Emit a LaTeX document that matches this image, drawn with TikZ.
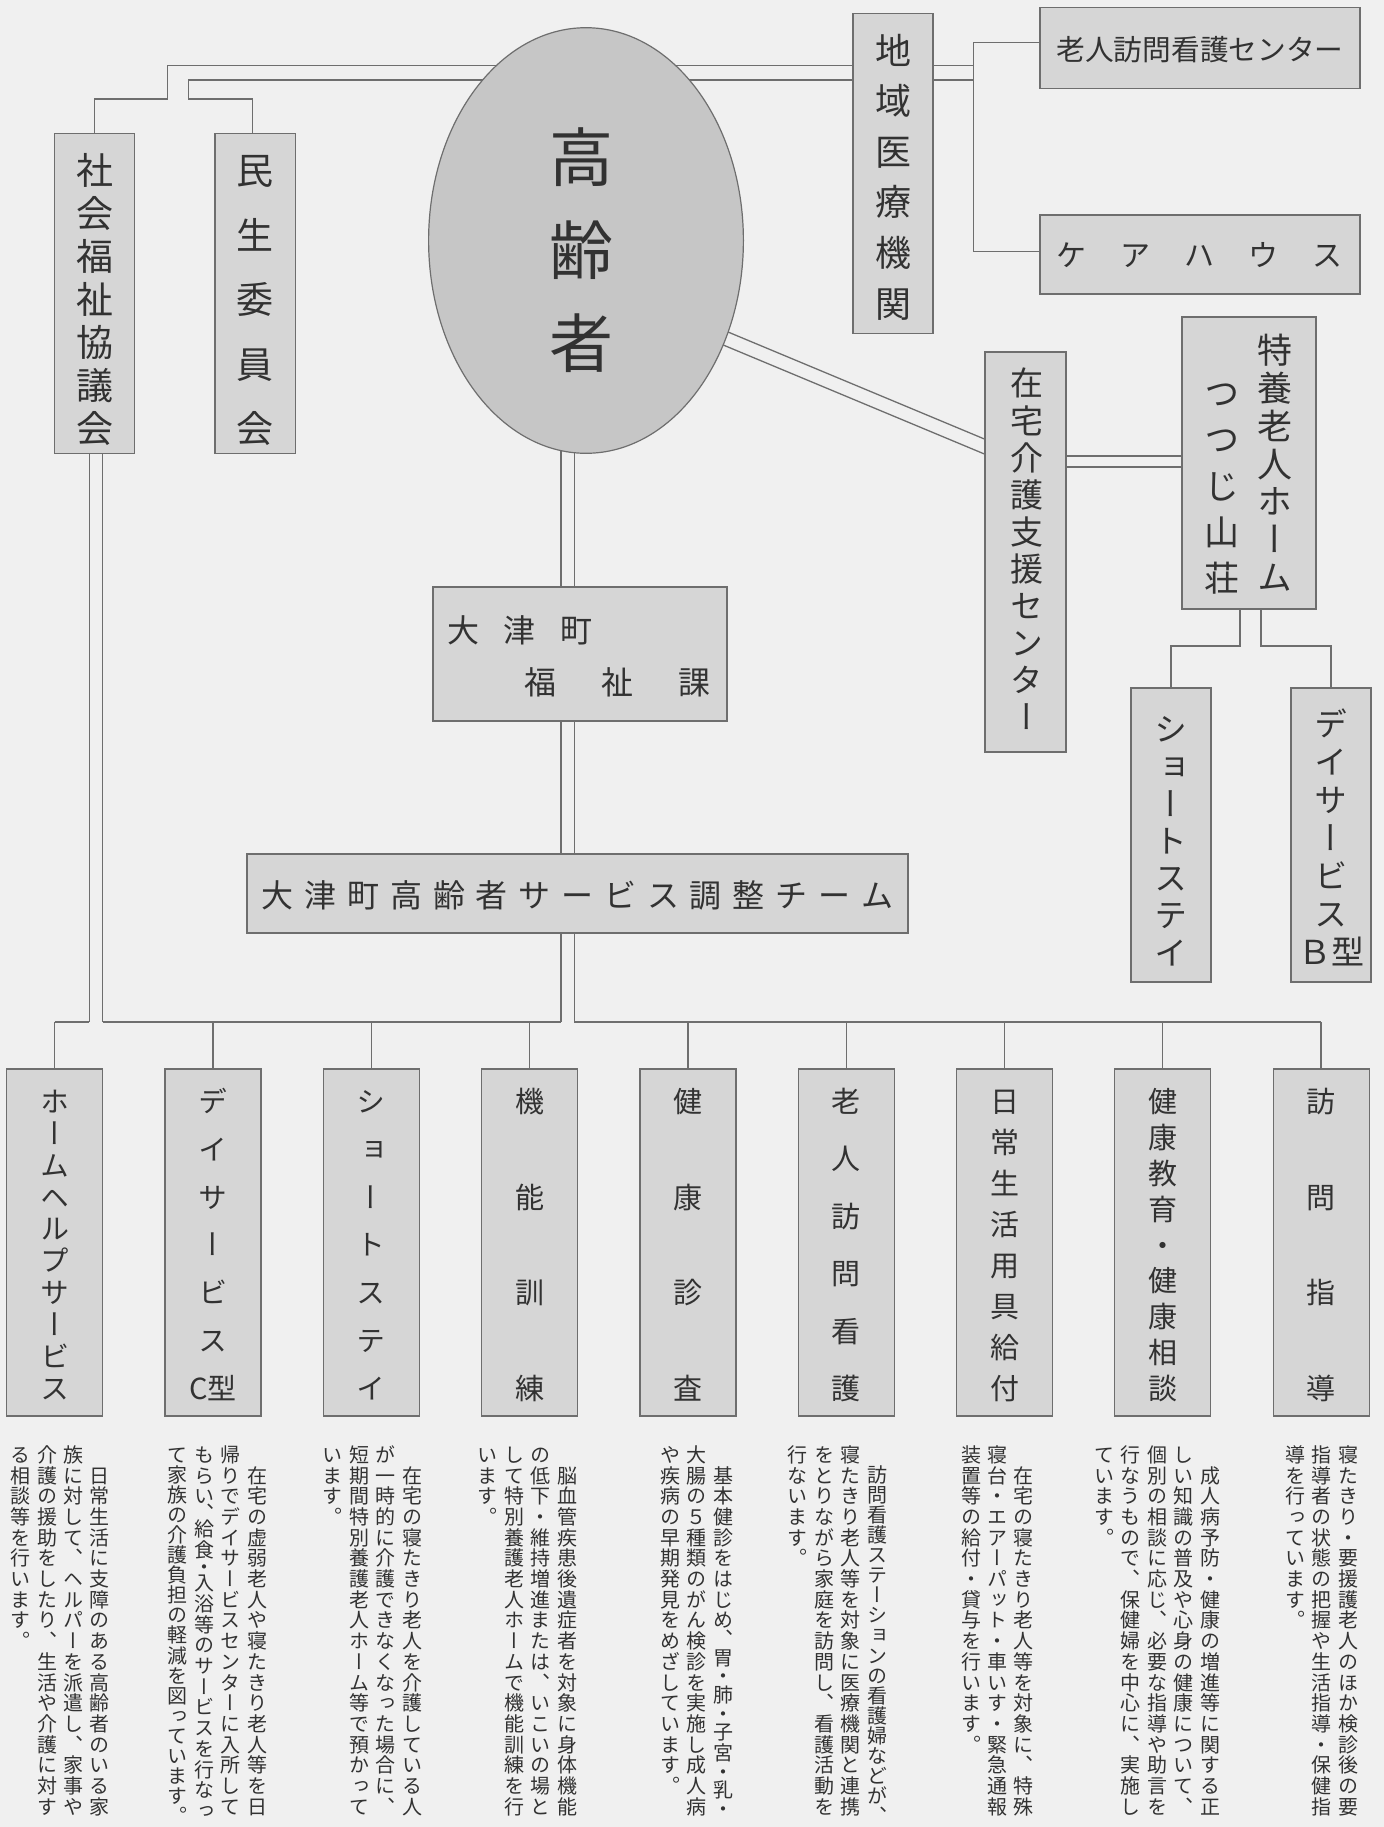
\documentclass[tikz,border=0pt]{standalone}
\usepackage{fontspec}
\usetikzlibrary{shapes.geometric,fit,calc}
\newfontfamily\jpv[RawFeature=+vert]{Noto Sans CJK JP}
\newfontfamily\jph{Noto Sans CJK JP}
\definecolor{bgc}{RGB}{240,240,240}
\definecolor{boxc}{RGB}{214,214,214}
\definecolor{ellc}{RGB}{198,198,198}
\definecolor{linec}{RGB}{110,110,110}
\definecolor{txtc}{RGB}{50,50,50}
\pgfdeclarelayer{bglayer}
\pgfdeclarelayer{linelayer}
\pgfsetlayers{bglayer,linelayer,main}

\ExplSyntaxOn
\cs_new_protected:Npn \vcell #1#2
  {
    \hbox_to_wd:nn {1em}
      { \hss \vbox_to_ht:nn {#1} { \vss \hbox:n { \vrule ~ height ~ .88em ~ depth ~ .12em ~ width ~ 0pt \relax #2 } \vss } \hss }
  }
\NewDocumentCommand \vcol { O{1} m m }
  {
    \vbox:n
      {
        \offinterlineskip
        \tl_map_inline:nn {#3}
          {
            \bool_if:nTF { \str_if_eq_p:nn {##1} {、} || \str_if_eq_p:nn {##1} {・} || \str_if_eq_p:nn {##1} {。} }
              { \vcell { \fp_to_dim:n { #1 * (#2) } } {##1} }
              { \vcell {#2} {##1} }
          }
      }
  }
\NewDocumentCommand \hsp { m m }
  { \tl_map_inline:nn {#2} { \hbox_to_wd:nn {#1} { \hss \vrule ~ height ~ .88em ~ depth ~ .12em ~ width ~ 0pt \relax ##1 \hss } } }
\ExplSyntaxOff

\tikzset{
  obox/.style={draw=linec, fill=boxc, line width=0.6pt, inner sep=0pt},
  conn/.style={draw=linec, line width=0.65pt},
  vt/.style={inner sep=0pt, anchor=north, text=txtc},
  ht/.style={inner sep=0pt, text=txtc},
  fs/.style={font={\jpv\fontsize{#1}{#1}\selectfont}},
  hfs/.style={font={\jph\fontsize{#1}{#1}\selectfont}},
}

\begin{document}
\begin{tikzpicture}[x=0.5pt,y=-0.5pt]
\begin{pgfonlayer}{bglayer}
\fill[bgc] (0,0) rectangle (1384,1827);
\end{pgfonlayer}
\useasboundingbox (0,0) rectangle (1384,1827);

% ---------- upper boxes ----------
\node[obox, fit={(54.5,133.3) (134.8,453.3)}] (shakai) {};
\node[obox, fit={(215,133.3) (295.5,453.3)}] (minsei) {};
\node[ellipse, draw=linec, line width=0.6pt, fill=ellc, inner sep=0pt,
      minimum width=157.4pt, minimum height=212.8pt] (koureisha) at (586,240.5) {};
\node[obox, fit={(853,13.3) (933,333.3)}] (chiiki) {};
\node[obox, fit={(1040,7.3) (1360,88.3)}] (roujin) {};
\node[obox, fit={(1040,215) (1360,294)}] (carehouse) {};
\node[obox, fit={(985,352) (1066,752)}] (zaitaku) {};
\node[obox, fit={(1182,317) (1316,609)}] (tokuyou) {};
\node[obox, fit={(1131,688) (1211,982)}] (short2) {};
\node[obox, fit={(1291,688) (1371,982)}] (day2) {};
\node[obox, fit={(433,587) (727,721)}] (fukushi) {};
\node[obox, fit={(247,854) (908,933)}] (team) {};

% ---------- lower boxes ----------
\node[obox, fit={(6.7,1069) (102.7,1416)}] (s1) {};
\node[obox, fit={(165.0,1069) (261.0,1416)}] (s2) {};
\node[obox, fit={(323.3,1069) (419.3,1416)}] (s3) {};
\node[obox, fit={(481.6,1069) (577.6,1416)}] (s4) {};
\node[obox, fit={(639.9,1069) (735.9,1416)}] (s5) {};
\node[obox, fit={(798.2,1069) (894.2,1416)}] (s6) {};
\node[obox, fit={(956.5,1069) (1052.5,1416)}] (s7) {};
\node[obox, fit={(1114.8,1069) (1210.8,1416)}] (s8) {};
\node[obox, fit={(1273.1,1069) (1369.1,1416)}] (s9) {};

% ---------- box texts ----------
\node[vt, fs=18.5pt] (t-shakai) at (94.6,148.5) {\vcol{21.5pt}{社会福祉協議会}};
\node[vt, fs=18.5pt] (t-minsei) at (255.3,137.8) {\vcol{32.25pt}{民生委員会}};
\node[vt, fs=32pt] (t-koureisha) at (581,110.5) {\vcol{46.5pt}{高齢者}};
\node[vt, fs=18pt] (t-chiiki) at (893,24.7) {\vcol{25.3pt}{地域医療機関}};
\node[ht, hfs=14.35pt] (t-roujin) at (1200,50) {\hsp{14.35pt}{老人訪問看護センター}};
\node[ht, hfs=15pt] (t-carehouse) at (1199.5,255) {\hsp{32pt}{ケアハウス}};
\node[vt, fs=16.5pt] (t-zaitaku) at (1026.7,364.4) {\vcol{18.55pt}{在宅介護支援センター}};
\node[vt, fs=17.5pt] (t-tokuyou1) at (1275,331.1) {\vcol{18.9pt}{特養老人ホーム}};
\node[vt, fs=17.5pt] (t-tokuyou2) at (1222,369.9) {\vcol{23.1pt}{つつじ山荘}};
\node[vt, fs=16.5pt] (t-short2) at (1171,710.4) {\vcol{18.6pt}{ショートステイ}};
\node[vt, fs=16.5pt] (t-day2) at (1331,705) {\vcol{19pt}{デイサービス{Ｂ型}}};
\node[ht, hfs=16pt] (t-fukushi1) at (520,630) {\hsp{28.5pt}{大津町}};
\node[ht, hfs=16pt] (t-fukushi2) at (617.5,682) {\hsp{38.75pt}{福祉課}};
\node[ht, hfs=16pt] (t-team) at (577.5,895) {\hsp{21.4pt}{大津町高齢者サービス調整チーム}};

\node[vt, fs=14.5pt] (t-s1) at (54.7,1085) {\vcol{15.95pt}{ホームヘルプサービス}};
\node[vt, fs=14.5pt] (t-s2) at (213,1077.1) {\vcol{23.92pt}{デイサービス{C型}}};
\node[vt, fs=14.5pt] (t-s3) at (371.3,1077.1) {\vcol{23.92pt}{ショートステイ}};
\node[vt, fs=14.5pt] (t-s4) at (529.6,1053.2) {\vcol{47.83pt}{機能訓練}};
\node[vt, fs=14.5pt] (t-s5) at (687.9,1053.2) {\vcol{47.83pt}{健康診査}};
\node[vt, fs=14.5pt] (t-s6) at (846.2,1072.3) {\vcol{28.7pt}{老人訪問看護}};
\node[vt, fs=14.5pt] (t-s7) at (1004.5,1080.5) {\vcol{20.5pt}{日常生活用具給付}};
\node[vt, fs=14.5pt] (t-s8) at (1162.8,1083.1) {\vcol{17.94pt}{健康教育・健康相談}};
\node[vt, fs=14.5pt] (t-s9) at (1321.1,1053.2) {\vcol{47.83pt}{訪問指導}};

% ---------- paragraphs ----------
\tikzset{para/.style={vt, fs=10pt}}
\def\pt{1444}
\node[para] (p1a) at (100,\pt) {\vcol{10.35pt}{　日常生活に支障のある高齢者のいる家}};
\node[para] (p1b) at (73.5,\pt) {\vcol{10.35pt}{族に対して、ヘルパーを派遣し、家事や}};
\node[para] (p1c) at (47,\pt) {\vcol{10.35pt}{介護の援助をしたり、生活や介護に対す}};
\node[para] (p1d) at (20.5,\pt) {\vcol{10.35pt}{る相談等を行います。}};

\node[para] (p2a) at (257,\pt) {\vcol{10.35pt}{　在宅の虚弱老人や寝たきり老人等を日}};
\node[para] (p2b) at (230.5,\pt) {\vcol{10.35pt}{帰りでデイサービスセンターに入所して}};
\node[para] (p2c) at (204,\pt) {\vcol[0.6]{10.35pt}{もらい、給食・入浴等のサービスを行なっ}};
\node[para] (p2d) at (177.5,\pt) {\vcol{10.05pt}{て家族の介護負担の軽減を図っています。}};

\node[para] (p3a) at (412,\pt) {\vcol{10.35pt}{　在宅の寝たきり老人を介護している人}};
\node[para] (p3b) at (385.5,\pt) {\vcol{10.35pt}{が一時的に介護できなくなった場合に、}};
\node[para] (p3c) at (359,\pt) {\vcol{10.35pt}{短期間特別養護老人ホーム等で預かって}};
\node[para] (p3d) at (332.5,\pt) {\vcol{10.35pt}{います。}};

\node[para] (p4a) at (567,\pt) {\vcol{10.35pt}{　脳血管疾患後遺症者を対象に身体機能}};
\node[para] (p4b) at (540.5,\pt) {\vcol{10.35pt}{の低下・維持増進または、いこいの場と}};
\node[para] (p4c) at (514,\pt) {\vcol{10.35pt}{して特別養護老人ホームで機能訓練を行}};
\node[para] (p4d) at (487.5,\pt) {\vcol{10.35pt}{います。}};

\node[para] (p5a) at (723,\pt) {\vcol[0.8]{10.35pt}{　基本健診をはじめ、胃・肺・子宮・乳・}};
\node[para] (p5b) at (696.5,\pt) {\vcol{10.35pt}{大腸の５種類のがん検診を実施し成人病}};
\node[para] (p5c) at (670,\pt) {\vcol{10.35pt}{や疾病の早期発見をめざしています。}};

\node[para] (p6a) at (877,\pt) {\vcol{10.05pt}{　訪問看護ステーションの看護婦などが、}};
\node[para] (p6b) at (850.5,\pt) {\vcol{10.35pt}{寝たきり老人等を対象に医療機関と連携}};
\node[para] (p6c) at (824,\pt) {\vcol{10.35pt}{をとりながら家庭を訪問し、看護活動を}};
\node[para] (p6d) at (797.5,\pt) {\vcol{10.35pt}{行ないます。}};

\node[para] (p7a) at (1023,\pt) {\vcol{10.35pt}{　在宅の寝たきり老人等を対象に、特殊}};
\node[para] (p7b) at (997,\pt) {\vcol{10.35pt}{寝台・エアーパット・車いす・緊急通報}};
\node[para] (p7c) at (971,\pt) {\vcol{10.35pt}{装置等の給付・貸与を行います。}};

\node[para] (p8a) at (1210,\pt) {\vcol{10.35pt}{　成人病予防・健康の増進等に関する正}};
\node[para] (p8b) at (1183.5,\pt) {\vcol{10.35pt}{しい知識の普及や心身の健康について、}};
\node[para] (p8c) at (1157,\pt) {\vcol{10.35pt}{個別の相談に応じ、必要な指導や助言を}};
\node[para] (p8d) at (1130.5,\pt) {\vcol{10.35pt}{行なうもので、保健婦を中心に、実施し}};
\node[para] (p8e) at (1104,\pt) {\vcol{10.35pt}{ています。}};

\node[para] (p9a) at (1348,\pt) {\vcol{10.35pt}{寝たきり・要援護老人のほか検診後の要}};
\node[para] (p9b) at (1321.5,\pt) {\vcol{10.35pt}{指導者の状態の把握や生活指導・保健指}};
\node[para] (p9c) at (1295,\pt) {\vcol{10.35pt}{導を行っています。}};

% ---------- connectors ----------
\begin{pgfonlayer}{linelayer}
\coordinate (a1) at (167.4,65.7); \coordinate (a2) at (167.4,99); \coordinate (a3) at (94.6,99);
\draw[conn] (chiiki.west |- a1) -- (a1) -- (a2) -- (a3) -- (a3 |- shakai.north);
\coordinate (b1) at (188.4,80); \coordinate (b2) at (188.4,99); \coordinate (b3) at (252.2,99);
\draw[conn] (chiiki.west |- b1) -- (b1) -- (b2) -- (b3) -- (b3 |- minsei.north);
\coordinate (c1) at (973.6,42.7); \coordinate (c2) at (973.6,251.7);
\draw[conn] (chiiki.east |- a1) -- (c1 |- a1);
\draw[conn] (chiiki.east |- b1) -- (c1 |- b1);
\draw[conn] (roujin.west |- c1) -- (c1) -- (c2) -- (carehouse.west |- c2);
\coordinate (d1) at (700,320.3); \coordinate (d2) at (700,335.3);
\draw[conn] (d1) -- (zaitaku.west |- 0,439);
\draw[conn] (d2) -- (zaitaku.west |- 0,454);
\draw[conn] (zaitaku.east |- 0,456) -- (tokuyou.west |- 0,456);
\draw[conn] (zaitaku.east |- 0,467) -- (tokuyou.west |- 0,467);
\coordinate (e1) at (1240,646); \coordinate (e2) at (1261,646);
\draw[conn] (tokuyou.south -| e1) -- (e1) -- (e1 -| short2.north) -- (short2.north);
\draw[conn] (tokuyou.south -| e2) -- (e2) -- (e2 -| day2.north) -- (day2.north);
\coordinate (f1) at (561,420); \coordinate (f2) at (574.3,420);
\draw[conn] (f1) -- (fukushi.north -| f1);
\draw[conn] (f2) -- (fukushi.north -| f2);
\draw[conn] (fukushi.south -| f1) -- (team.north -| f1);
\draw[conn] (fukushi.south -| f2) -- (team.north -| f2);
\coordinate (bus) at (0,1022);
\draw[conn] (team.south -| f1) -- (bus -| f1);
\draw[conn] (team.south -| f2) -- (bus -| f2);
\coordinate (g1) at (89.3,0); \coordinate (g2) at (102.7,0);
\draw[conn] (shakai.south -| g1) -- (bus -| g1);
\draw[conn] (shakai.south -| g2) -- (bus -| g2);
\draw[conn] (bus -| s1.north) -- (bus -| g1);
\draw[conn] (bus -| g2) -- (bus -| f1);
\draw[conn] (bus -| f2) -- (bus -| s9.north);
\foreach \i in {1,...,9} { \draw[conn] (bus -| s\i.north) -- (s\i.north); }
\end{pgfonlayer}
\end{tikzpicture}
\end{document}
